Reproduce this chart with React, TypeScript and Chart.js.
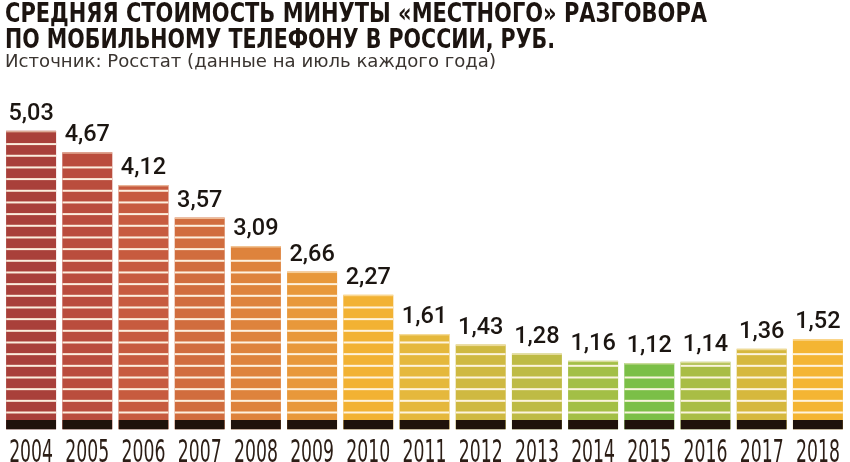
import React, { useEffect, useRef } from 'react';
import { Chart, registerables } from 'chart.js';

Chart.register(...registerables);

const years = ['2004', '2005', '2006', '2007', '2008', '2009', '2010', '2011', '2012', '2013', '2014', '2015', '2016', '2017', '2018'];
const prices = [5.03, 4.67, 4.12, 3.57, 3.09, 2.66, 2.27, 1.61, 1.43, 1.28, 1.16, 1.12, 1.14, 1.36, 1.52];
const barColors = [
  '#a9403a', '#ba4d3d', '#c75b3f', '#d16d3e', '#de833c', '#e8983a', '#f2b233', '#e5b83c',
  '#cfb941', '#bebb45', '#a3bf46', '#7bbf47', '#a9bd45', '#d6b83d', '#f4b533',
];
const titleLines = [
  'СРЕДНЯЯ СТОИМОСТЬ МИНУТЫ «МЕСТНОГО» РАЗГОВОРА',
  'ПО МОБИЛЬНОМУ ТЕЛЕФОНУ В РОССИИ, РУБ.',
];
const subtitleText = 'Источник: Росстат (данные на июль каждого года)';

const COND = '"DejaVu Sans Condensed", "DejaVu Sans", sans-serif';

function fitText(ctx: any, text: string, x: number, y: number, targetW: number) {
  const w = ctx.measureText(text).width;
  const s = targetW / w;
  ctx.save();
  ctx.translate(x, y);
  ctx.scale(s, 1);
  ctx.fillText(text, 0, 0);
  ctx.restore();
}

const headerPlugin = {
  id: 'header',
  afterDraw(chart: any) {
    const ctx = chart.ctx;
    ctx.save();
    ctx.textAlign = 'left';
    ctx.textBaseline = 'alphabetic';
    ctx.fillStyle = '#1c1410';
    ctx.font = `bold 26px ${COND}`;
    fitText(ctx, titleLines[0], 5, 21.7, 702);
    fitText(ctx, titleLines[1], 5, 48.3, 550);
    ctx.fillStyle = '#3a3430';
    ctx.font = '18.5px "DejaVu Sans", sans-serif';
    fitText(ctx, subtitleText, 5, 66.7, 491);
    ctx.restore();
  },
};

const stripePlugin = {
  id: 'stripes',
  afterDatasetsDraw(chart: any) {
    const ctx = chart.ctx;
    const meta = chart.getDatasetMeta(0);
    const xScale = chart.scales.x;
    meta.data.forEach((bar: any, i: number) => {
      const { x, y, base, width } = bar.getProps(['x', 'y', 'base', 'width'], true);
      const left = x - width / 2;
      ctx.save();
      ctx.beginPath();
      ctx.rect(left, y, width, base - y);
      ctx.clip();
      ctx.fillStyle = 'rgba(255,247,230,0.95)';
      for (let s = base - 18; s > y + 3; s -= 11.67) {
        ctx.fillRect(left, s, width, 2);
      }
      ctx.fillStyle = 'rgba(255,240,210,0.6)';
      ctx.fillRect(left, y, width, 1.5);
      ctx.fillStyle = '#1f120b';
      ctx.fillRect(left, base - 9.5, width, 9.5);
      ctx.restore();

      ctx.save();
      ctx.font = '500 23.5px Roboto, "DejaVu Sans Condensed", sans-serif';
      ctx.fillStyle = '#1b1511';
      ctx.textAlign = 'center';
      ctx.textBaseline = 'alphabetic';
      ctx.fillText(prices[i].toFixed(2).replace('.', ','), x, y - 11);
      ctx.restore();

      // year label under each bar, positioned by the category scale
      const cx = xScale.getPixelForTick(i);
      ctx.save();
      ctx.font = `32px ${COND}`;
      ctx.fillStyle = '#2b1d15';
      ctx.textAlign = 'center';
      ctx.textBaseline = 'alphabetic';
      ctx.translate(cx, 462);
      ctx.scale(0.6, 1);
      ctx.fillText(years[i], 0, 0);
      ctx.restore();
    });
  },
};

export default function App() {
  const canvasRef = useRef<HTMLCanvasElement | null>(null);

  useEffect(() => {
    const canvas = canvasRef.current;
    if (!canvas) return;
    const chart = new Chart(canvas, {
      type: 'bar',
      data: {
        labels: years,
        datasets: [
          {
            data: prices,
            backgroundColor: barColors,
            borderWidth: 0,
            barPercentage: 0.89,
            categoryPercentage: 1,
          },
        ],
      },
      options: {
        responsive: false,
        animation: false,
        events: [],
        layout: { padding: { left: 3, right: 4, top: 97, bottom: 32.5 } },
        plugins: {
          legend: { display: false },
          tooltip: { enabled: false },
          title: { display: false },
        },
        scales: {
          x: {
            display: false,
          },
          y: {
            display: false,
            min: 0,
            max: 5.6,
          },
        },
      },
      plugins: [stripePlugin, headerPlugin],
    });
    return () => chart.destroy();
  }, []);

  return (
    <div style={{ position: 'absolute', left: 0, top: 0, width: 850, height: 462, background: '#fff' }}>
      <canvas ref={canvasRef} width={850} height={462} style={{ width: 850, height: 462, display: 'block' }} />
    </div>
  );
}
